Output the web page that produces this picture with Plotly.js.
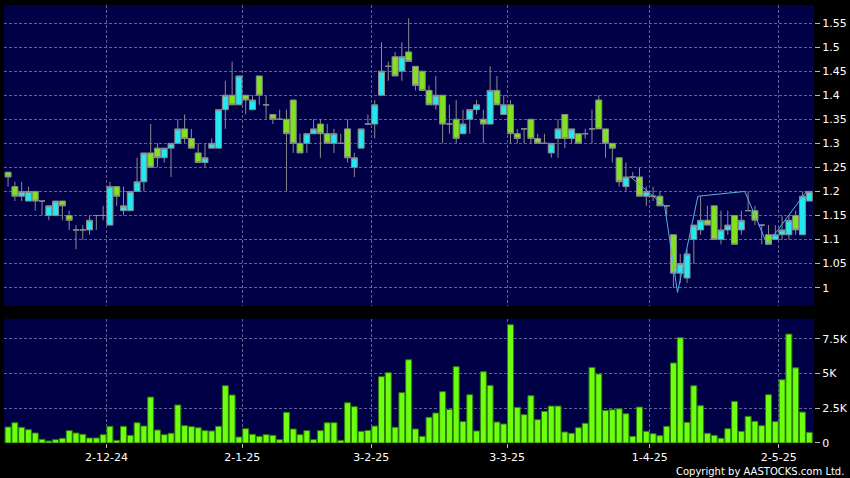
<!DOCTYPE html>
<html><head><meta charset="utf-8">
<script src="https://cdn.plot.ly/plotly-3.0.1.min.js"></script>
<style>html,body{margin:0;padding:0;background:#000;}#chart{width:850px;height:478px;}</style>
</head><body><div id="chart"></div>
<script>
// ---- data (one entry per trading day) ----
const openP  = [1.24,1.21,1.19,1.18,1.20,1.18,1.15,1.15,1.18,1.15,1.12,1.12,1.12,1.15,1.15,1.13,1.21,1.16,1.16,1.20,
                1.22,1.28,1.29,1.27,1.29,1.30,1.33,1.31,1.28,1.26,1.29,1.29,1.37,1.40,1.38,1.40,1.37,1.44,1.38,1.36,
                1.35,1.35,1.39,1.30,1.30,1.32,1.34,1.32,1.30,1.30,1.33,1.25,1.29,1.34,1.34,1.40,1.46,1.48,1.45,1.49,
                1.46,1.45,1.41,1.38,1.40,1.34,1.35,1.32,1.35,1.37,1.35,1.34,1.41,1.36,1.38,1.32,1.33,1.35,1.31,1.30,
                1.28,1.31,1.36,1.31,1.32,1.32,1.33,1.39,1.33,1.30,1.27,1.21,1.23,1.23,1.19,1.19,1.19,1.17,1.11,1.03,
                1.02,1.10,1.12,1.14,1.17,1.10,1.12,1.15,1.12,1.16,1.16,1.13,1.11,1.10,1.11,1.11,1.15,1.11,1.18];
const highP  = [1.24,1.22,1.22,1.21,1.20,1.18,1.17,1.18,1.18,1.16,1.13,1.13,1.15,1.15,1.17,1.22,1.21,1.21,1.20,1.27,
                1.28,1.34,1.30,1.29,1.30,1.35,1.36,1.33,1.30,1.30,1.31,1.37,1.43,1.47,1.44,1.40,1.40,1.44,1.40,1.36,
                1.37,1.37,1.39,1.32,1.32,1.35,1.35,1.34,1.33,1.32,1.35,1.28,1.33,1.36,1.39,1.51,1.47,1.49,1.51,1.56,
                1.46,1.45,1.42,1.44,1.40,1.38,1.39,1.37,1.37,1.39,1.37,1.46,1.44,1.40,1.39,1.33,1.33,1.35,1.32,1.32,
                1.30,1.35,1.36,1.33,1.32,1.33,1.37,1.40,1.33,1.30,1.27,1.26,1.24,1.25,1.21,1.21,1.20,1.17,1.11,1.07,
                1.08,1.13,1.19,1.17,1.17,1.16,1.16,1.15,1.16,1.20,1.17,1.13,1.13,1.13,1.15,1.15,1.16,1.20,1.20];
const lowP   = [1.21,1.18,1.18,1.18,1.16,1.15,1.14,1.15,1.14,1.12,1.08,1.10,1.11,1.12,1.14,1.13,1.17,1.15,1.16,1.20,
                1.20,1.25,1.25,1.26,1.23,1.30,1.30,1.29,1.26,1.25,1.29,1.29,1.33,1.38,1.38,1.36,1.37,1.38,1.35,1.34,
                1.35,1.20,1.28,1.28,1.28,1.32,1.27,1.30,1.28,1.30,1.26,1.23,1.29,1.34,1.31,1.40,1.43,1.44,1.43,1.47,
                1.41,1.41,1.38,1.37,1.30,1.32,1.30,1.32,1.32,1.36,1.30,1.34,1.38,1.36,1.30,1.30,1.30,1.30,1.30,1.30,
                1.27,1.27,1.29,1.30,1.30,1.31,1.30,1.33,1.27,1.26,1.21,1.20,1.23,1.19,1.17,1.18,1.17,1.15,1.00,1.01,
                1.01,1.05,1.11,1.13,1.10,1.09,1.11,1.09,1.11,1.16,1.13,1.09,1.09,1.10,1.10,1.10,1.11,1.11,1.18];
const closeP = [1.23,1.19,1.20,1.20,1.18,1.18,1.17,1.18,1.17,1.14,1.12,1.12,1.14,1.15,1.15,1.21,1.19,1.17,1.20,1.22,
                1.28,1.25,1.27,1.29,1.30,1.33,1.31,1.29,1.26,1.27,1.30,1.37,1.40,1.38,1.44,1.39,1.39,1.40,1.38,1.35,
                1.35,1.32,1.30,1.28,1.32,1.33,1.32,1.30,1.32,1.30,1.27,1.27,1.33,1.34,1.38,1.45,1.46,1.44,1.48,1.47,
                1.42,1.41,1.38,1.40,1.34,1.34,1.31,1.34,1.37,1.38,1.34,1.41,1.38,1.38,1.32,1.31,1.33,1.31,1.30,1.30,
                1.30,1.33,1.31,1.33,1.30,1.32,1.33,1.33,1.30,1.29,1.22,1.23,1.23,1.19,1.20,1.19,1.17,1.17,1.03,1.05,
                1.07,1.13,1.14,1.13,1.10,1.12,1.13,1.09,1.14,1.16,1.14,1.13,1.09,1.11,1.12,1.14,1.12,1.19,1.20];
const volume = [1150,1460,1130,960,720,265,145,240,340,890,720,625,360,360,600,1200,190,1200,550,1460,
                1220,3310,935,600,700,2740,1250,1180,1100,890,865,1200,4130,3460,430,1030,625,480,600,550,
                240,2210,1010,600,890,240,890,1460,1460,190,2900,2620,840,910,1220,4780,5070,1130,3630,6000,
                1010,480,1850,2160,3700,2420,5500,1540,3480,865,5140,4150,1510,1370,8530,2570,2040,3410,1680,2280,
                2660,2660,790,700,1100,1420,5450,4970,2350,2400,2470,2110,480,2590,840,670,530,1200,5770,7590,
                1490,4130,2690,700,550,340,1030,3000,840,1920,1560,1250,3480,1540,4560,7850,5420,2230,770];
// zigzag overlay (day position, price)
const zigX = [91.7, 96.7, 98.6, 101.6, 108.5, 111.8, 117.6];
const zigY = [1.23, 1.17, 0.99, 1.19, 1.20, 1.09, 1.20];
// month starts (index of first trading day) and labels
const monthStart = [15, 35, 54, 74, 95, 114];
const monthLabels = ['2-12-24','2-1-25','3-2-25','3-3-25','1-4-25','2-5-25'];
const priceTicks = [1,1.05,1.1,1.15,1.2,1.25,1.3,1.35,1.4,1.45,1.5,1.55];
const priceTickText = ['1','1.05','1.1','1.15','1.2','1.25','1.3','1.35','1.4','1.45','1.5','1.55'];
const volTicks = [0,2500,5000,7500];
const volTickText = ['0','2.5K','5K','7.5K'];

const xs = openP.map((_, i) => i);
const gridPos = monthStart.map(v => v - 0.5);
const gridCol = 'rgba(130,130,175,0.75)';
const font = {family: 'DejaVu Sans, Verdana, sans-serif', size: 11, color: '#ffffff'};

const traces = [
  {type: 'candlestick', x: xs, open: openP, high: highP, low: lowP, close: closeP,
   xaxis: 'x', yaxis: 'y', hoverinfo: 'skip', whiskerwidth: 0,
   increasing: {fillcolor: '#22e8f2', line: {color: '#8a8a8a', width: 1}},
   decreasing: {fillcolor: '#7ee21c', line: {color: '#8a8a8a', width: 1}}},
  {type: 'scatter', mode: 'lines', x: zigX, y: zigY, xaxis: 'x', yaxis: 'y',
   line: {color: '#58aee6', width: 1}, hoverinfo: 'skip'},
  {type: 'bar', x: xs, y: volume, xaxis: 'x2', yaxis: 'y2', hoverinfo: 'skip',
   marker: {color: '#6cff10', line: {color: '#2f7a08', width: 1}}}
];

const layout = {
  width: 850, height: 478,
  margin: {l: 4, r: 36, t: 5, b: 35},
  paper_bgcolor: '#000000', plot_bgcolor: '#000046',
  showlegend: false, font: font,
  boxgap: 0.12, boxgroupgap: 0, bargap: 0.12,
  xaxis: {domain: [0, 1], anchor: 'y', range: [-0.6, 118.7], rangeslider: {visible: false},
          tickmode: 'array', tickvals: gridPos, showticklabels: false, ticks: '',
          showgrid: true, gridcolor: gridCol, griddash: '3px,2px', gridwidth: 1, zeroline: false, showline: false},
  yaxis: {domain: [0.3135, 1], anchor: 'x', side: 'right', range: [0.9625, 1.5875],
          tickmode: 'array', tickvals: priceTicks, ticktext: priceTickText,
          ticks: 'outside', ticklen: 5, tickcolor: '#bbbbbb', tickfont: font,
          showgrid: true, gridcolor: gridCol, griddash: '3px,2px', zeroline: false, showline: false},
  xaxis2: {domain: [0, 1], anchor: 'y2', matches: 'x', range: [-0.6, 118.7],
           tickmode: 'array', tickvals: gridPos, ticktext: monthLabels, tickfont: font,
           ticks: 'outside', ticklen: 4, tickcolor: '#bbbbbb',
           showgrid: true, gridcolor: gridCol, griddash: '3px,2px', zeroline: false, showline: false},
  yaxis2: {domain: [0, 0.2838], anchor: 'x2', side: 'right', range: [0, 8960],
           tickmode: 'array', tickvals: volTicks, ticktext: volTickText, tickfont: font,
           ticks: 'outside', ticklen: 5, tickcolor: '#bbbbbb',
           showgrid: true, gridcolor: gridCol, griddash: '3px,2px', zeroline: false, showline: false},
  annotations: [{text: 'Copyright by AASTOCKS.com Ltd.', xref: 'paper', yref: 'paper',
                 x: 1.039, y: -0.066, xanchor: 'right', yanchor: 'middle', showarrow: false,
                 font: {family: 'DejaVu Sans, Verdana, sans-serif', size: 10, color: '#ffffff'}}]
};

Plotly.newPlot('chart', traces, layout, {staticPlot: true, displayModeBar: false});
</script></body></html>
